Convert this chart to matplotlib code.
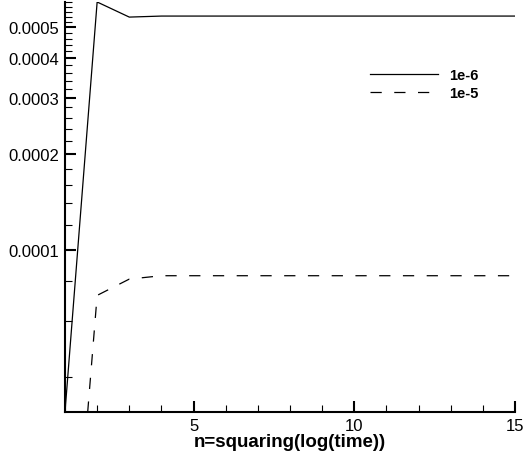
import matplotlib.pyplot as plt
from matplotlib.ticker import FixedLocator, NullFormatter

plt.rcParams['font.family'] = ['Liberation Sans', 'DejaVu Sans']

# data
n = list(range(1, 16))
err_1e6 = [3.1e-5, 6.0e-4, 5.38e-4] + [5.42e-4] * 12
err_1e5 = [4.1e-6, 7.2e-5, 8.1e-5, 8.3e-5] + [8.3e-5] * 11
major_y = [1e-4, 2e-4, 3e-4, 4e-4, 5e-4]
major_y_labels = ['0.0001', '0.0002', '0.0003', '0.0004', '0.0005']
minor_y = [k * 2e-5 for k in range(1, 31)]

fig = plt.figure(figsize=(5.24, 4.6), dpi=100)
ax = fig.add_axes([65 / 524, 47 / 460, 450 / 524, 410 / 460])

ax.plot(n, err_1e6, color='black', lw=0.9, label='1e-6')
ax.plot(n, err_1e5, color='black', lw=0.9, linestyle=(0, (9, 10)), label='1e-5')

ax.set_yscale('log')
ax.set_xlim(1, 15)
ax.set_ylim(3.1e-5, 6.0e-4)

ax.yaxis.set_major_locator(FixedLocator(major_y))
ax.set_yticklabels(major_y_labels)
ax.yaxis.set_minor_locator(FixedLocator(minor_y))
ax.yaxis.set_minor_formatter(NullFormatter())
ax.set_xticks([5, 10, 15])
ax.xaxis.set_minor_locator(FixedLocator(list(range(1, 16))))

for s in ['top', 'right']:
    ax.spines[s].set_visible(False)
for s in ['left', 'bottom']:
    ax.spines[s].set_linewidth(1.5)

ax.tick_params(which='major', direction='in', length=8, width=1.5, labelsize=12, pad=4)
ax.tick_params(which='minor', direction='in', length=5, width=0.8)

ax.set_xlabel('n=squaring(log(time))', fontsize=13.5, fontweight='bold', labelpad=0)

leg = ax.legend(loc='upper left', bbox_to_anchor=(0.648, 0.871), frameon=False,
                handlelength=4.7, handletextpad=0.75, labelspacing=0.25,
                prop={'weight': 'bold', 'size': 10.5})

fig.savefig('out.png', dpi=100)
